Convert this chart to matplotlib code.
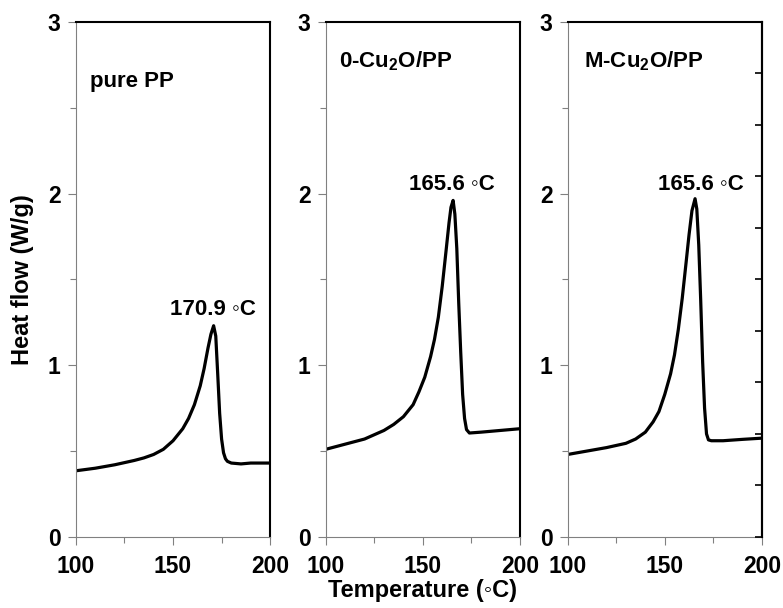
import numpy as np
import matplotlib
matplotlib.use("Agg")
import matplotlib.pyplot as plt

plt.rcParams["font.family"] = ["Liberation Sans", "DejaVu Sans"]
plt.rcParams["font.weight"] = "bold"
plt.rcParams["mathtext.fontset"] = "custom"
plt.rcParams["mathtext.rm"] = "Liberation Sans:bold"
plt.rcParams["mathtext.bf"] = "Liberation Sans:bold"
plt.rcParams["mathtext.it"] = "Liberation Sans:bold:italic"
plt.rcParams["mathtext.default"] = "bf"

# DSC melting curves (heat flow, W/g) read per sample
t_pp = [100, 110, 120, 130, 135, 140, 145, 150, 155, 158, 161, 164, 166, 168,
        169.5, 170.9, 172, 173, 174, 175, 176, 177, 178, 180, 185, 190, 200]
hf_pp = [0.385, 0.40, 0.42, 0.445, 0.46, 0.48, 0.51, 0.56, 0.63, 0.69, 0.77,
         0.88, 0.98, 1.10, 1.18, 1.23, 1.17, 0.95, 0.72, 0.57, 0.49, 0.455,
         0.44, 0.43, 0.425, 0.43, 0.43]

t_0cu = [100, 110, 120, 130, 135, 140, 145, 148, 151, 154, 156, 158, 160, 162,
         163.5, 164.5, 165.6, 166.5, 167.5, 168.5, 169.5, 170.5, 171.5, 172.5,
         174, 180, 190, 200]
hf_0cu = [0.51, 0.54, 0.57, 0.62, 0.655, 0.70, 0.77, 0.845, 0.93, 1.05, 1.15,
          1.28, 1.46, 1.67, 1.83, 1.92, 1.96, 1.88, 1.68, 1.36, 1.08, 0.83,
          0.69, 0.625, 0.605, 0.61, 0.62, 0.63]

t_mcu = [100, 110, 120, 130, 135, 140, 144, 147, 150, 153, 155, 157, 159, 161,
         162.5, 164, 165.6, 166.5, 167.5, 168.5, 169.5, 170.5, 171.5, 172.5,
         174, 180, 190, 200]
hf_mcu = [0.48, 0.50, 0.52, 0.545, 0.57, 0.61, 0.67, 0.73, 0.83, 0.95, 1.06,
          1.21, 1.39, 1.60, 1.76, 1.90, 1.97, 1.91, 1.70, 1.38, 1.02, 0.75,
          0.60, 0.565, 0.56, 0.56, 0.568, 0.575]

names = ["pure PP", "0-Cu$_2$O/PP", "M-Cu$_2$O/PP"]
peak_t = [170.9, 165.6, 165.6]
curves = [(t_pp, hf_pp), (t_0cu, hf_0cu), (t_mcu, hf_mcu)]

# panel placement in figure fractions
lefts = [0.097, 0.416, 0.725]
name_pos = [(107, 2.65), (107, 2.77), (108.5, 2.77)]
peak_lbl = [(170.6, 1.29), (164.8, 2.02), (168.6, 2.02)]

fig = plt.figure(figsize=(7.83, 6.08), dpi=100)
axes = []
for i, (t, hf) in enumerate(curves):
    ax = fig.add_axes([lefts[i], 0.117, 0.248, 0.847])
    ax.plot(t, hf, color="black", lw=2.3, solid_capstyle="round")
    ax.set_xlim(100, 200)
    ax.set_ylim(0, 3)
    ax.set_xticks([100, 150, 200])
    ax.set_xticks([125, 175], minor=True)
    ax.set_yticks([0, 1, 2, 3])
    ax.set_yticks([0.5, 1.5, 2.5], minor=True)
    for s in ("left", "bottom"):
        ax.spines[s].set_color("#808080")
        ax.spines[s].set_linewidth(0.8)
    for s in ("top", "right"):
        ax.spines[s].set_color("black")
        ax.spines[s].set_linewidth(1.5)
    ax.tick_params(which="both", direction="out", color="#808080", width=0.8,
                   labelsize=16.5)
    ax.tick_params(which="major", length=6)
    ax.tick_params(axis="x", which="major", pad=7)
    ax.tick_params(axis="y", which="major", pad=5)
    ax.tick_params(which="minor", length=4)
    for lab in ax.get_xticklabels() + ax.get_yticklabels():
        lab.set_fontweight("bold")

    ax.text(*name_pos[i], names[i], fontsize=16, fontweight="bold",
            ha="left", va="center")
    ax.text(peak_lbl[i][0], peak_lbl[i][1], f"{peak_t[i]:.1f} \u25e6C",
            fontsize=16, fontweight="bold", ha="center", va="baseline")
    axes.append(ax)

# extra inward ticks on the right edge of the last panel
tw = axes[2].twinx()
tw.set_ylim(0, 3)
tw.set_yticks(np.arange(0, 3.01, 0.3))
tw.tick_params(axis="y", direction="in", length=5, width=1.2, color="black",
               labelright=False)
for s in ("left", "bottom", "top"):
    tw.spines[s].set_visible(False)
tw.spines["right"].set_linewidth(1.5)

fig.text(0.029, 0.54, "Heat flow (W/g)", rotation=90, fontsize=17,
         fontweight="bold", ha="center", va="center")
fig.text(0.540, 0.028, "Temperature (\u25e6C)", fontsize=17,
         fontweight="bold", ha="center", va="center")

fig.savefig("out.png", dpi=100)
